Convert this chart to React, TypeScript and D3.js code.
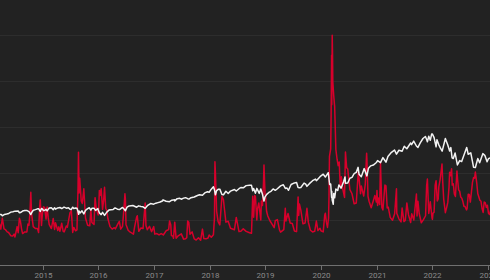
import React from "react";
import * as d3 from "d3";

const years = [2015, 2016, 2017, 2018, 2019, 2020, 2021, 2022, 2023];

const vixData: [string, number][] = [
  ["2014-03-24", 15.0], ["2014-04-01", 13.1], ["2014-04-11", 17.0], ["2014-04-22", 13.2], ["2014-05-02", 12.9],
  ["2014-05-13", 12.1], ["2014-05-22", 11.9], ["2014-06-06", 10.7], ["2014-06-18", 10.6], ["2014-06-27", 11.3],
  ["2014-07-03", 10.3], ["2014-07-17", 14.0], ["2014-07-24", 11.8], ["2014-08-01", 17.0], ["2014-08-08", 15.8],
  ["2014-08-15", 13.2], ["2014-08-22", 11.5], ["2014-09-05", 12.1], ["2014-09-19", 12.1], ["2014-09-26", 14.9],
  ["2014-10-03", 14.5], ["2014-10-09", 18.8], ["2014-10-15", 26.3], ["2014-10-20", 18.6], ["2014-10-31", 14.0],
  ["2014-11-14", 13.3], ["2014-11-28", 13.3], ["2014-12-05", 11.9], ["2014-12-12", 21.1], ["2014-12-16", 23.6],
  ["2014-12-24", 14.4], ["2014-12-31", 19.2],
  ["2015-01-06", 21.1], ["2015-01-13", 20.9], ["2015-01-23", 16.7], ["2015-01-30", 21.0], ["2015-02-06", 17.3],
  ["2015-02-13", 14.7], ["2015-02-27", 13.3], ["2015-03-11", 16.9], ["2015-03-20", 13.0], ["2015-03-26", 15.4],
  ["2015-04-10", 12.6], ["2015-04-17", 13.9], ["2015-04-24", 12.3], ["2015-05-06", 15.2], ["2015-05-15", 12.4],
  ["2015-05-22", 12.1], ["2015-06-05", 14.2], ["2015-06-12", 13.8], ["2015-06-29", 18.9], ["2015-07-08", 19.7],
  ["2015-07-17", 11.9], ["2015-07-24", 13.7], ["2015-08-05", 12.5], ["2015-08-14", 12.8], ["2015-08-21", 28.0],
  ["2015-08-24", 40.7], ["2015-08-28", 26.1], ["2015-09-01", 31.4], ["2015-09-11", 23.2], ["2015-09-18", 22.3],
  ["2015-09-28", 27.6], ["2015-10-09", 17.1], ["2015-10-23", 14.5], ["2015-11-06", 14.3], ["2015-11-13", 20.1],
  ["2015-11-20", 15.5], ["2015-12-04", 14.8], ["2015-12-11", 24.4], ["2015-12-18", 20.7], ["2015-12-31", 18.2],
  ["2016-01-04", 20.7], ["2016-01-08", 27.0], ["2016-01-13", 25.2], ["2016-01-20", 27.6], ["2016-01-29", 20.2],
  ["2016-02-05", 23.4], ["2016-02-11", 28.1], ["2016-02-19", 20.5], ["2016-02-26", 19.8], ["2016-03-04", 16.9],
  ["2016-03-18", 14.0], ["2016-04-01", 13.1], ["2016-04-15", 13.6], ["2016-04-22", 13.2], ["2016-05-06", 14.7],
  ["2016-05-18", 15.9], ["2016-05-27", 13.1], ["2016-06-08", 14.1], ["2016-06-16", 19.4], ["2016-06-24", 25.8],
  ["2016-06-27", 23.9], ["2016-07-01", 14.8], ["2016-07-15", 12.7], ["2016-07-29", 12.0], ["2016-08-12", 11.6],
  ["2016-08-19", 11.3], ["2016-08-26", 13.7], ["2016-09-09", 17.5], ["2016-09-13", 17.9], ["2016-09-23", 12.3],
  ["2016-10-07", 13.5], ["2016-10-21", 13.3], ["2016-11-04", 22.5], ["2016-11-09", 14.4], ["2016-11-18", 12.9],
  ["2016-12-02", 14.1], ["2016-12-16", 12.2], ["2016-12-30", 14.0],
  ["2017-01-06", 11.3], ["2017-01-20", 11.5], ["2017-02-03", 11.0], ["2017-02-17", 11.5], ["2017-03-03", 11.0],
  ["2017-03-21", 12.5], ["2017-04-07", 12.9], ["2017-04-13", 16.0], ["2017-04-21", 14.6], ["2017-04-25", 10.8],
  ["2017-05-05", 10.6], ["2017-05-09", 9.8], ["2017-05-17", 15.6], ["2017-05-26", 9.8], ["2017-06-09", 10.7],
  ["2017-06-29", 11.4], ["2017-07-14", 9.5], ["2017-07-26", 9.6], ["2017-08-04", 10.0], ["2017-08-10", 16.0],
  ["2017-08-17", 15.6], ["2017-08-25", 11.3], ["2017-09-08", 12.1], ["2017-09-22", 9.6], ["2017-10-05", 9.2],
  ["2017-10-20", 10.0], ["2017-11-03", 9.1], ["2017-11-15", 13.1], ["2017-11-24", 9.7], ["2017-12-08", 9.6],
  ["2017-12-22", 9.9], ["2017-12-29", 11.0],
  ["2018-01-12", 10.2], ["2018-01-26", 11.1], ["2018-02-02", 17.3], ["2018-02-05", 37.3], ["2018-02-08", 33.5],
  ["2018-02-16", 19.5], ["2018-02-26", 15.8], ["2018-03-09", 14.6], ["2018-03-23", 24.9], ["2018-04-02", 23.6],
  ["2018-04-06", 21.5], ["2018-04-18", 15.6], ["2018-05-03", 15.9], ["2018-05-18", 13.4], ["2018-06-13", 12.9],
  ["2018-06-25", 17.3], ["2018-07-13", 12.2], ["2018-07-25", 12.3], ["2018-08-10", 13.2], ["2018-08-29", 12.3],
  ["2018-09-20", 11.8], ["2018-10-03", 11.6], ["2018-10-11", 24.9], ["2018-10-17", 17.4], ["2018-10-24", 25.2],
  ["2018-10-29", 24.7], ["2018-11-07", 16.4], ["2018-11-12", 20.5], ["2018-11-20", 22.5], ["2018-12-03", 16.4],
  ["2018-12-07", 23.2], ["2018-12-14", 21.6], ["2018-12-21", 30.1], ["2018-12-24", 36.1], ["2018-12-31", 25.4],
  ["2019-01-03", 25.4], ["2019-01-10", 19.5], ["2019-01-18", 17.8], ["2019-02-01", 16.1], ["2019-02-15", 14.9],
  ["2019-03-01", 13.6], ["2019-03-08", 16.1], ["2019-03-22", 16.5], ["2019-04-05", 12.8], ["2019-04-12", 12.0],
  ["2019-05-03", 12.9], ["2019-05-13", 20.6], ["2019-05-17", 16.0], ["2019-05-31", 18.7], ["2019-06-14", 15.3],
  ["2019-06-28", 15.1], ["2019-07-12", 12.4], ["2019-07-26", 12.2], ["2019-08-05", 24.6], ["2019-08-09", 18.0],
  ["2019-08-14", 22.1], ["2019-08-23", 19.9], ["2019-09-06", 15.0], ["2019-09-20", 15.3], ["2019-10-02", 20.6],
  ["2019-10-11", 15.6], ["2019-10-25", 12.7], ["2019-11-08", 12.1], ["2019-11-22", 12.3], ["2019-12-03", 16.0],
  ["2019-12-13", 12.6], ["2019-12-27", 13.4],
  ["2020-01-02", 12.5], ["2020-01-17", 12.1], ["2020-01-27", 18.2], ["2020-01-31", 18.8], ["2020-02-07", 15.5],
  ["2020-02-14", 13.7], ["2020-02-21", 17.1], ["2020-02-24", 25.0], ["2020-02-27", 39.2], ["2020-03-06", 41.9],
  ["2020-03-09", 54.5], ["2020-03-12", 75.5], ["2020-03-13", 57.8], ["2020-03-16", 82.7], ["2020-03-18", 76.5],
  ["2020-03-20", 66.0], ["2020-03-26", 61.0], ["2020-04-01", 57.1], ["2020-04-09", 41.7], ["2020-04-17", 38.2],
  ["2020-04-24", 35.9], ["2020-05-01", 37.2], ["2020-05-08", 28.0], ["2020-05-15", 31.9], ["2020-05-22", 28.2],
  ["2020-06-05", 24.5], ["2020-06-11", 40.8], ["2020-06-19", 35.1], ["2020-06-26", 34.7], ["2020-07-10", 27.3],
  ["2020-07-24", 25.8], ["2020-08-07", 22.2], ["2020-08-21", 22.5], ["2020-09-03", 33.6], ["2020-09-08", 31.5],
  ["2020-09-18", 25.8], ["2020-09-23", 28.6], ["2020-10-09", 25.0], ["2020-10-19", 29.2], ["2020-10-28", 40.3],
  ["2020-10-30", 38.0], ["2020-11-06", 24.9], ["2020-11-13", 23.1], ["2020-11-27", 20.8], ["2020-12-11", 23.3],
  ["2020-12-21", 25.2], ["2020-12-31", 22.8],
  ["2021-01-04", 27.0], ["2021-01-08", 21.6], ["2021-01-15", 24.3], ["2021-01-22", 21.9], ["2021-01-27", 37.2],
  ["2021-01-29", 33.1], ["2021-02-05", 20.9], ["2021-02-12", 20.0], ["2021-02-25", 28.9], ["2021-03-04", 28.6],
  ["2021-03-12", 20.7], ["2021-03-19", 21.0], ["2021-04-01", 17.3], ["2021-04-09", 16.7], ["2021-04-16", 16.3],
  ["2021-04-30", 18.6], ["2021-05-12", 27.6], ["2021-05-14", 18.8], ["2021-05-28", 16.8], ["2021-06-11", 15.7],
  ["2021-06-18", 20.7], ["2021-06-30", 15.8], ["2021-07-09", 16.2], ["2021-07-19", 22.5], ["2021-07-30", 18.2],
  ["2021-08-13", 15.5], ["2021-08-20", 18.6], ["2021-09-03", 16.4], ["2021-09-20", 25.7], ["2021-09-24", 17.8],
  ["2021-09-30", 23.1], ["2021-10-08", 18.8], ["2021-10-22", 15.4], ["2021-11-05", 16.5], ["2021-11-19", 17.9],
  ["2021-11-26", 28.6], ["2021-12-01", 31.1], ["2021-12-10", 18.7], ["2021-12-20", 22.9], ["2021-12-31", 17.2],
  ["2022-01-03", 16.6], ["2022-01-07", 18.8], ["2022-01-14", 19.2], ["2022-01-21", 28.9], ["2022-01-27", 30.5],
  ["2022-02-04", 23.2], ["2022-02-10", 23.9], ["2022-02-14", 28.3], ["2022-02-23", 31.0], ["2022-03-07", 36.5],
  ["2022-03-11", 30.8], ["2022-03-18", 23.9], ["2022-03-29", 19.0], ["2022-04-08", 21.2], ["2022-04-14", 22.7],
  ["2022-04-22", 28.2], ["2022-04-26", 33.5], ["2022-05-02", 32.3], ["2022-05-09", 34.8], ["2022-05-13", 28.9],
  ["2022-05-20", 29.4], ["2022-05-27", 25.7], ["2022-06-03", 24.8], ["2022-06-13", 34.0], ["2022-06-17", 31.1],
  ["2022-06-24", 27.2], ["2022-07-01", 26.7], ["2022-07-08", 24.6], ["2022-07-15", 24.2], ["2022-07-22", 23.0],
  ["2022-07-29", 21.3], ["2022-08-05", 21.2], ["2022-08-15", 20.0], ["2022-08-19", 20.6], ["2022-08-26", 25.6],
  ["2022-09-02", 25.5], ["2022-09-09", 22.8], ["2022-09-16", 26.3], ["2022-09-23", 29.9], ["2022-09-30", 31.6],
  ["2022-10-07", 31.4], ["2022-10-12", 33.6], ["2022-10-21", 29.7], ["2022-10-28", 25.8], ["2022-11-04", 24.6],
  ["2022-11-10", 23.5], ["2022-11-18", 23.1], ["2022-11-25", 20.5], ["2022-12-02", 19.1], ["2022-12-09", 22.8],
  ["2022-12-16", 22.6], ["2022-12-23", 20.9], ["2022-12-30", 21.7], ["2023-01-06", 18.8], ["2023-01-13", 18.4],
  ["2023-01-20", 19.9],
];

const spxData: [string, number][] = [
  ["2014-03-24", 1857], ["2014-04-04", 1865], ["2014-04-11", 1815], ["2014-04-25", 1863], ["2014-05-09", 1878],
  ["2014-05-23", 1900], ["2014-06-06", 1949], ["2014-06-20", 1963], ["2014-07-03", 1985], ["2014-07-24", 1988],
  ["2014-08-01", 1925], ["2014-08-08", 1931], ["2014-08-22", 1988], ["2014-09-05", 2007], ["2014-09-18", 2011],
  ["2014-10-03", 1968], ["2014-10-15", 1862], ["2014-10-24", 1964], ["2014-10-31", 2018], ["2014-11-14", 2039],
  ["2014-11-28", 2068], ["2014-12-05", 2075], ["2014-12-16", 1973], ["2014-12-24", 2082], ["2014-12-31", 2059],
  ["2015-01-06", 2003], ["2015-01-16", 2019], ["2015-01-23", 2051], ["2015-01-30", 1995], ["2015-02-13", 2097],
  ["2015-02-27", 2105], ["2015-03-11", 2040], ["2015-03-20", 2108], ["2015-03-26", 2057], ["2015-04-10", 2102],
  ["2015-04-24", 2117], ["2015-05-06", 2080], ["2015-05-21", 2131], ["2015-06-05", 2092], ["2015-06-19", 2110],
  ["2015-06-29", 2057], ["2015-07-08", 2046], ["2015-07-17", 2127], ["2015-07-24", 2080], ["2015-08-05", 2100],
  ["2015-08-14", 2092], ["2015-08-21", 1971], ["2015-08-25", 1868], ["2015-08-28", 1989], ["2015-09-04", 1921],
  ["2015-09-16", 1996], ["2015-09-28", 1882], ["2015-10-09", 2014], ["2015-10-23", 2075], ["2015-11-03", 2109],
  ["2015-11-13", 2023], ["2015-11-20", 2089], ["2015-12-04", 2092], ["2015-12-14", 2013], ["2015-12-29", 2078],
  ["2015-12-31", 2044],
  ["2016-01-08", 1922], ["2016-01-20", 1859], ["2016-01-29", 1940], ["2016-02-11", 1829], ["2016-02-26", 1948],
  ["2016-03-11", 2022], ["2016-03-24", 2036], ["2016-04-08", 2048], ["2016-04-20", 2102], ["2016-05-06", 2057],
  ["2016-05-19", 2040], ["2016-06-08", 2119], ["2016-06-16", 2077], ["2016-06-27", 2001], ["2016-07-08", 2130],
  ["2016-07-22", 2175], ["2016-08-15", 2190], ["2016-09-09", 2128], ["2016-09-22", 2177], ["2016-10-07", 2153],
  ["2016-10-21", 2141], ["2016-11-04", 2085], ["2016-11-18", 2182], ["2016-12-09", 2259], ["2016-12-30", 2239],
  ["2017-01-13", 2275], ["2017-01-27", 2295], ["2017-02-10", 2316], ["2017-02-28", 2364], ["2017-03-01", 2396],
  ["2017-03-21", 2344], ["2017-04-13", 2329], ["2017-04-28", 2384], ["2017-05-16", 2400], ["2017-05-17", 2357],
  ["2017-06-02", 2439], ["2017-06-19", 2453], ["2017-06-29", 2419], ["2017-07-14", 2459], ["2017-07-27", 2475],
  ["2017-08-10", 2438], ["2017-08-18", 2425], ["2017-09-01", 2476], ["2017-09-22", 2502], ["2017-10-13", 2553],
  ["2017-10-27", 2581], ["2017-11-15", 2565], ["2017-11-30", 2648], ["2017-12-18", 2690], ["2017-12-29", 2674],
  ["2018-01-12", 2786], ["2018-01-26", 2873], ["2018-02-02", 2762], ["2018-02-08", 2581], ["2018-02-16", 2732],
  ["2018-02-26", 2780], ["2018-03-09", 2786], ["2018-03-23", 2588], ["2018-04-02", 2582], ["2018-04-18", 2708],
  ["2018-05-03", 2630], ["2018-05-18", 2713], ["2018-06-13", 2775], ["2018-06-25", 2717], ["2018-07-13", 2801],
  ["2018-07-25", 2846], ["2018-08-10", 2833], ["2018-08-29", 2914], ["2018-09-20", 2931], ["2018-10-03", 2925],
  ["2018-10-11", 2728], ["2018-10-17", 2809], ["2018-10-29", 2641], ["2018-11-07", 2814], ["2018-11-23", 2633],
  ["2018-12-03", 2790], ["2018-12-14", 2600], ["2018-12-24", 2351], ["2018-12-31", 2507],
  ["2019-01-11", 2596], ["2019-01-25", 2665], ["2019-02-08", 2708], ["2019-02-22", 2793], ["2019-03-08", 2743],
  ["2019-03-22", 2800], ["2019-04-12", 2907], ["2019-04-30", 2946], ["2019-05-13", 2812], ["2019-05-24", 2826],
  ["2019-06-03", 2744], ["2019-06-20", 2954], ["2019-07-12", 3014], ["2019-07-26", 3026], ["2019-08-05", 2845],
  ["2019-08-14", 2840], ["2019-08-23", 2847], ["2019-09-13", 3007], ["2019-09-24", 2966], ["2019-10-02", 2888],
  ["2019-10-18", 2986], ["2019-11-08", 3093], ["2019-11-27", 3154], ["2019-12-03", 3094], ["2019-12-27", 3240],
  ["2020-01-17", 3330], ["2020-01-31", 3226], ["2020-02-19", 3386], ["2020-02-28", 2954], ["2020-03-06", 2972],
  ["2020-03-09", 2746], ["2020-03-12", 2481], ["2020-03-13", 2711], ["2020-03-16", 2386], ["2020-03-23", 2237],
  ["2020-03-26", 2630], ["2020-04-01", 2471], ["2020-04-09", 2790], ["2020-04-21", 2737], ["2020-04-29", 2940],
  ["2020-05-13", 2820], ["2020-05-29", 3044], ["2020-06-08", 3232], ["2020-06-11", 3002], ["2020-06-26", 3009],
  ["2020-07-10", 3185], ["2020-07-24", 3216], ["2020-08-07", 3351], ["2020-08-21", 3397], ["2020-09-02", 3580],
  ["2020-09-08", 3332], ["2020-09-23", 3237], ["2020-10-12", 3534], ["2020-10-30", 3270], ["2020-11-09", 3550],
  ["2020-11-24", 3635], ["2020-12-11", 3663], ["2020-12-31", 3756],
  ["2021-01-08", 3825], ["2021-01-27", 3751], ["2021-02-12", 3934], ["2021-02-25", 3829], ["2021-03-04", 3768],
  ["2021-03-17", 3975], ["2021-04-09", 4129], ["2021-04-29", 4211], ["2021-05-12", 4063], ["2021-05-28", 4204],
  ["2021-06-18", 4166], ["2021-07-02", 4352], ["2021-07-19", 4258], ["2021-08-13", 4468], ["2021-08-19", 4406],
  ["2021-09-02", 4537], ["2021-09-20", 4358], ["2021-09-30", 4308], ["2021-10-15", 4471], ["2021-11-02", 4631],
  ["2021-11-18", 4705], ["2021-11-26", 4595], ["2021-12-01", 4513], ["2021-12-10", 4712], ["2021-12-20", 4568],
  ["2021-12-29", 4793],
  ["2022-01-03", 4797], ["2022-01-14", 4663], ["2022-01-27", 4327], ["2022-02-02", 4589], ["2022-02-14", 4401],
  ["2022-02-24", 4288], ["2022-03-08", 4171], ["2022-03-29", 4632], ["2022-04-14", 4393], ["2022-04-26", 4175],
  ["2022-05-04", 4300], ["2022-05-12", 3930], ["2022-05-20", 3901], ["2022-06-01", 4101], ["2022-06-16", 3667],
  ["2022-07-01", 3825], ["2022-07-14", 3790], ["2022-08-16", 4305], ["2022-08-26", 4058], ["2022-09-12", 4110],
  ["2022-09-30", 3586], ["2022-10-12", 3577], ["2022-10-28", 3901], ["2022-11-09", 3749], ["2022-11-30", 4080],
  ["2022-12-13", 4019], ["2022-12-28", 3783], ["2023-01-06", 3895], ["2023-01-18", 3928],
];

const gridSteps = [1, 2, 3, 4, 5];
const spxTop = 8392;

const parse = d3.timeParse("%Y-%m-%d");

export default function App() {
  const W = 490;
  const H = 280;
  const x = d3
    .scaleTime()
    .domain([new Date(2015, 0, 1), new Date(2023, 0, 1)])
    .range([42.7, 487.7]);
  const vixMax = d3.max(vixData, (d) => d[1]) as number;
  const yV = d3.scaleLinear().domain([0, vixMax]).range([265.6, 35.3]);
  const yS = d3.scaleLinear().domain([0, spxTop]).range([265.6, 35.3]);

  const vixLine = d3
    .line<[string, number]>()
    .x((d) => x(parse(d[0]) as Date))
    .y((d) => yV(d[1]));
  const spxLine = d3
    .line<[string, number]>()
    .x((d) => x(parse(d[0]) as Date))
    .y((d) => yS(d[1]));

  return (
    <svg
      width={W}
      height={H}
      style={{ position: "absolute", left: 0, top: 0, display: "block" }}
      fontFamily="Roboto, 'Noto Sans', sans-serif"
    >
      <rect x={0} y={0} width={W} height={H} fill="#222222" />
      {gridSteps.map((s) => {
        const yy = Math.round(yV((vixMax * s) / 5)) + 0.5;
        return <line key={s} x1={0} x2={W} y1={yy} y2={yy} stroke="#2d2d2d" strokeWidth={1} />;
      })}
      <path d={vixLine(vixData) || ""} fill="none" stroke="#d6002b" strokeWidth={1.5} strokeLinejoin="round" />
      <path d={spxLine(spxData) || ""} fill="none" stroke="#f2f2f2" strokeWidth={1.5} strokeLinejoin="round" />
      <line x1={0} x2={W} y1={265.5} y2={265.5} stroke="#707070" strokeWidth={1} />
      {years.map((yr) => {
        const xx = Math.round(x(new Date(yr, 0, 1))) + 0.5;
        return (
          <g key={yr} transform={`translate(${xx},0)`}>
            <line y1={265.5} y2={270} stroke="#707070" strokeWidth={1} />
            <text y={277.5} textAnchor="middle" fontSize={8} fill="#8a8a8a">
              {yr}
            </text>
          </g>
        );
      })}
    </svg>
  );
}
